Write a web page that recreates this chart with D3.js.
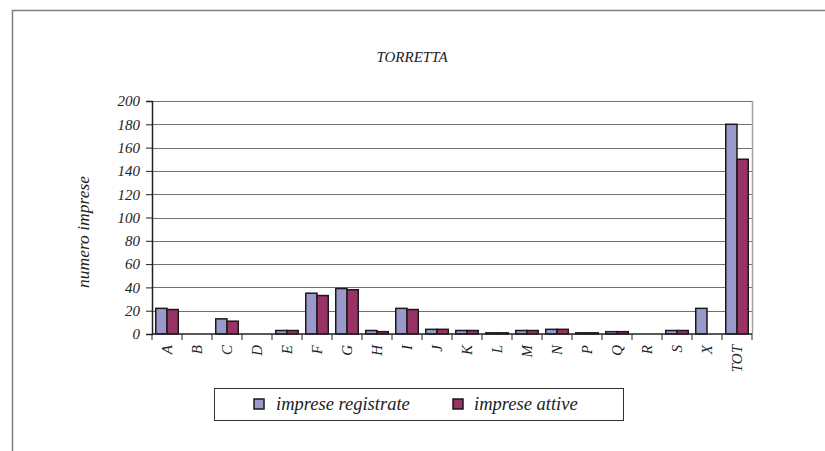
<!DOCTYPE html>
<html><head><meta charset="utf-8">
<script src="https://cdn.jsdelivr.net/npm/d3@7"></script>
</head><body style="margin:0;background:#fff">
<script>
const categories = ["A","B","C","D","E","F","G","H","I","J","K","L","M","N","P","Q","R","S","X","TOT"];
const registrate = [22,0,13,0,3,35,39,3,22,4,3,1,3,4,1,2,0,3,22,180];
const attive     = [21,0,11,0,3,33,38,2,21,4,3,1,3,4,1,2,0,3,0,150];
const seriesNames = ["imprese registrate","imprese attive"];
const yTicks = [0,20,40,60,80,100,120,140,160,180,200];
const title = "TORRETTA";
const yTitle = "numero imprese";

const FONT = "Liberation Serif";
const W = 825, H = 451;
const m = {left:152, right:752, top:101, bottom:334};
const colors = ["#9999cc","#993366"];

const svg = d3.select("body").append("svg").attr("width",W).attr("height",H).style("display","block");
function txt(sel){ return sel.attr("font-family",FONT).attr("font-style","italic").attr("fill","#222"); }

svg.append("rect").attr("width",W).attr("height",H).attr("fill","#fff");
svg.append("path").attr("d",`M12.5,${H} L12.5,10.5 L${W},10.5`).attr("fill","none").attr("stroke","#7f7f7f").attr("stroke-width",1.5);

const x = d3.scaleBand().domain(categories).range([m.left,m.right]).paddingInner(0).paddingOuter(0);
const y = d3.scaleLinear().domain([0,200]).range([m.bottom,m.top]);
const xs = d3.scaleBand().domain([0,1]).range([0,x.bandwidth()]).paddingInner(0).paddingOuter(0.333);

svg.append("g").selectAll("line").data(yTicks.filter(d=>d>0)).join("line")
  .attr("x1",m.left).attr("x2",m.right).attr("y1",d=>Math.round(y(d))+0.5).attr("y2",d=>Math.round(y(d))+0.5)
  .attr("stroke","#6f6f6f").attr("stroke-width",1);

svg.append("line").attr("x1",m.right+0.5).attr("x2",m.right+0.5).attr("y1",m.top).attr("y2",m.bottom)
  .attr("stroke","#a0a0a0").attr("stroke-width",1.5);

const data = categories.map((c,i)=>({c, v:[registrate[i],attive[i]]}));
const g = svg.append("g");
data.forEach(d=>{
  d.v.forEach((v,k)=>{
    if(v<=0) return;
    g.append("rect")
      .attr("x",x(d.c)+xs(k)).attr("width",xs.bandwidth())
      .attr("y",y(v)).attr("height",y(0)-y(v))
      .attr("fill",colors[k]).attr("stroke","#1a1a1a").attr("stroke-width",1.5);
  });
});

const yAxis = d3.axisLeft(y).tickValues(yTicks).tickSize(6).tickPadding(6);
const ya = svg.append("g").attr("transform",`translate(${m.left},0)`).call(yAxis);
ya.attr("font-family",FONT).attr("font-size",15);
ya.select(".domain").attr("stroke","#222").attr("stroke-width",1.5);
ya.selectAll(".tick line").attr("stroke","#222");
txt(ya.selectAll("text")).attr("font-size",15);

const xa = svg.append("g").attr("transform",`translate(0,${m.bottom})`);
xa.append("line").attr("x1",m.left).attr("x2",m.right).attr("stroke","#222").attr("stroke-width",1.5);
const bounds = d3.range(categories.length+1).map(i=>m.left+i*x.bandwidth());
xa.selectAll("line.t").data(bounds).join("line").attr("class","t")
  .attr("x1",d=>d).attr("x2",d=>d).attr("y1",0).attr("y2",6).attr("stroke","#222");
txt(xa.selectAll("text").data(categories).join("text")
  .attr("transform",d=>`translate(${x(d)+x.bandwidth()/2+5},11) rotate(-90)`)
  .attr("text-anchor","end").attr("font-size",15).text(d=>d));

txt(svg.append("text").attr("x",412).attr("y",62).attr("text-anchor","middle").attr("font-size",15).text(title));

txt(svg.append("text").attr("transform",`translate(89,232) rotate(-90)`)
  .attr("text-anchor","middle").attr("font-size",17.5).text(yTitle));

const lg = svg.append("g");
lg.append("rect").attr("x",214.5).attr("y",388.5).attr("width",409).attr("height",32)
  .attr("fill","#fff").attr("stroke","#333").attr("stroke-width",1);
const lx = [254, 453], tx = [276, 474];
seriesNames.forEach((n,k)=>{
  lg.append("rect").attr("x",lx[k]).attr("y",399).attr("width",10).attr("height",10)
    .attr("fill",colors[k]).attr("stroke","#1a1a1a").attr("stroke-width",1.5);
  txt(lg.append("text").attr("x",tx[k]).attr("y",410).attr("font-size",18.5).text(n));
});
</script>
</body></html>
